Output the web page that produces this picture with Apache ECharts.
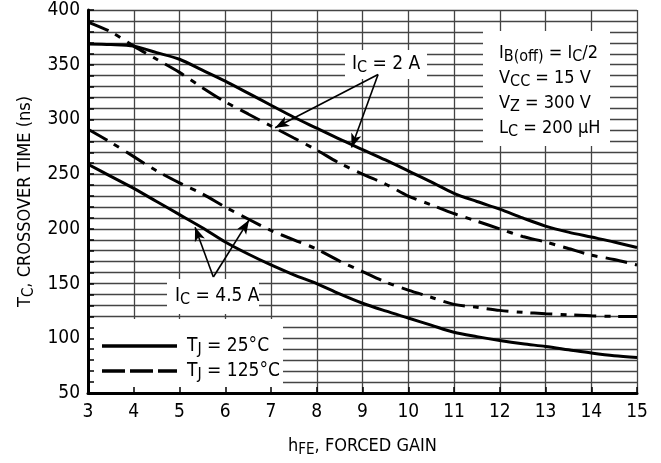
<!DOCTYPE html>
<html><head><meta charset="utf-8">
<script src="https://cdn.jsdelivr.net/npm/echarts@6/dist/echarts.min.js"></script>
<style>html,body{margin:0;padding:0;background:#fff}#c{width:661px;height:463px}</style>
</head><body><div id="c"></div>
<script>
// ---- data ----
const hFE = [3,3.5,4,4.5,5,5.5,6,6.5,7,7.5,8,8.5,9,9.5,10,10.5,11,11.5,12,12.5,13,13.5,14,14.5,15];
const ic2A_25C  = [369,368.5,367,361,355,345,335,324,313,302,292,282,272.5,263,253,243,232.5,225,218,210,202.5,197,192.5,188,183];
const ic2A_125C = [389,380,367,355,343,329,316,305,294,283,272,260,250,241,230,222,214,207,200,193,188,182,176,172,167];
const ic45A_25C = [259,248,237,225,213,201,188,177,167,158,150,140.5,132,125,118.5,112,105.5,101.5,98,95,92.5,89.5,86.5,84,82.5];
const ic45A_125C= [291,279,266,253,242,232,220,209,198.5,190,181.5,170.5,161,151.5,144,137.5,131,128.3,125.5,123.7,122.4,121.5,120.6,120,120];
const xTicks = [3,4,5,6,7,8,9,10,11,12,13,14,15];
const yLabelValues = [50,100,150,200,250,300,350,400];
// annotation arrows: [from, to] in data coordinates
const arrows2A  = [[[9.34,341],[7.09,292.4]], [[9.34,341],[8.76,274.3]]];
const arrows45A = [[[5.74,156],[5.34,201.5]], [[5.74,156],[6.52,208]]];

const FONT = "'Liberation Sans Narrow','DejaVu Sans Condensed','Liberation Sans',sans-serif";
const pairs = v => hFE.map((x,i)=>[x,v[i]]);
const subRich = (fs, sfs, drop) => ({
  m:{fontFamily:FONT,fontSize:fs,color:'#000'},
  s:{fontFamily:FONT,fontSize:sfs,color:'#000',padding:[drop,0,0,0]}
});

const chart = echarts.init(document.getElementById('c'), null, {renderer:'canvas'});
const dashPat = [22,8,6,8];

const lineSeries = (name, data, dashed) => ({
  type:'line', name, data: pairs(data), xAxisIndex:0, yAxisIndex:0,
  smooth:0.3, showSymbol:false, symbol:'none', z:3,
  lineStyle:{color:'#000', width:3, type: dashed ? dashPat : 'solid', cap:'butt'}
});

const arrowLines = [...arrows2A, ...arrows45A].map(a => [{coord:a[0]},{coord:a[1]}]);

chart.setOption({
  animation:false,
  backgroundColor:'#fff',
  grid:{left:88,right:24,top:10,bottom:68},
  xAxis:[
    {type:'value',min:3,max:15,interval:1,z:0,
     axisLine:{show:false},axisTick:{show:false},axisLabel:{show:false},
     splitLine:{show:true,lineStyle:{color:'#444',width:1.3}}},
    {type:'value',min:3,max:15,interval:1,z:10,position:'bottom',
     axisLine:{show:true,onZero:false,lineStyle:{color:'#000',width:3}},
     axisTick:{show:true,inside:true,length:6,lineStyle:{color:'#000',width:1.5}},
     axisLabel:{show:true,color:'#000',fontFamily:FONT,fontSize:19,margin:10,
       formatter:v=> xTicks.includes(v)? String(v):''},
     splitLine:{show:false},
     name:'{m|h}{s|FE}{m|, FORCED GAIN}',nameLocation:'middle',nameGap:42,
     nameTextStyle:{rich:subRich(18,15,8)}}
  ],
  yAxis:[
    {type:'value',min:50,max:400,interval:10,z:0,
     axisLine:{show:false},axisTick:{show:false},axisLabel:{show:false},
     splitLine:{show:true,lineStyle:{color:'#444',width:1.3}}},
    {type:'value',min:50,max:400,interval:10,z:10,position:'left',
     axisLine:{show:true,onZero:false,lineStyle:{color:'#000',width:3}},
     axisTick:{show:true,inside:true,length:6,lineStyle:{color:'#000',width:1.5}},
     axisLabel:{show:true,color:'#000',fontFamily:FONT,fontSize:19,margin:8,
       formatter:v=> yLabelValues.includes(v)? String(v):''},
     splitLine:{show:false},
     name:'{m|T}{s|C}{m|, CROSSOVER TIME (ns)}',nameLocation:'middle',nameGap:51,
     nameTextStyle:{rich:subRich(18,15,8)}}
  ],
  series:[
    lineSeries('2A 25C', ic2A_25C, false),
    lineSeries('2A 125C', ic2A_125C, true),
    lineSeries('4.5A 25C', ic45A_25C, false),
    lineSeries('4.5A 125C', ic45A_125C, true),
    {type:'line',data:[],xAxisIndex:0,yAxisIndex:0,z:4,
     markLine:{silent:true,symbol:['none','arrow'],symbolSize:[8,14],
       label:{show:false},
       lineStyle:{color:'#000',width:1.6,type:'solid'},
       data:arrowLines}}
  ],
  graphic:[
    // white boxes
    {type:'rect',z:1,shape:{x:483,y:31,width:127,height:115},style:{fill:'#fff'}},
    {type:'rect',z:1,shape:{x:345,y:50,width:82,height:29},style:{fill:'#fff'}},
    {type:'rect',z:1,shape:{x:167,y:279,width:92,height:35},style:{fill:'#fff'}},
    {type:'rect',z:1,shape:{x:89,y:319,width:194,height:75},style:{fill:'#fff'}},
    // legend
    {type:'line',z:20,shape:{x1:102,y1:346,x2:177,y2:346},style:{stroke:'#000',lineWidth:3.5}},
    {type:'line',z:20,shape:{x1:102,y1:371,x2:177,y2:371},style:{stroke:'#000',lineWidth:3.5,lineDash:[23,5]}},
    {type:'text',z:20,x:187,y:334,style:{text:'{m|T}{s|J}{m| = 25°C}',rich:subRich(19,16,8)}},
    {type:'text',z:20,x:187,y:359,style:{text:'{m|T}{s|J}{m| = 125°C}',rich:subRich(19,16,8)}},
    // annotation labels
    {type:'text',z:20,x:352,y:52,style:{text:'{m|I}{s|C}{m| = 2 A}',rich:subRich(19,16,8)}},
    {type:'text',z:20,x:175,y:284,style:{text:'{m|I}{s|C}{m| = 4.5 A}',rich:subRich(19,16,8)}},
    // conditions
    {type:'text',z:20,x:499,y:41,style:{text:'{m|I}{s|B(off)}{m| = I}{s|C}{m|/2}',rich:subRich(18,16,8)}},
    {type:'text',z:20,x:499,y:66,style:{text:'{m|V}{s|CC}{m| = 15 V}',rich:subRich(18,16,8)}},
    {type:'text',z:20,x:499,y:91,style:{text:'{m|V}{s|Z}{m| = 300 V}',rich:subRich(18,16,8)}},
    {type:'text',z:20,x:499,y:116,style:{text:'{m|L}{s|C}{m| = 200 μH}',rich:subRich(18,16,8)}}
  ]
});
</script></body></html>
